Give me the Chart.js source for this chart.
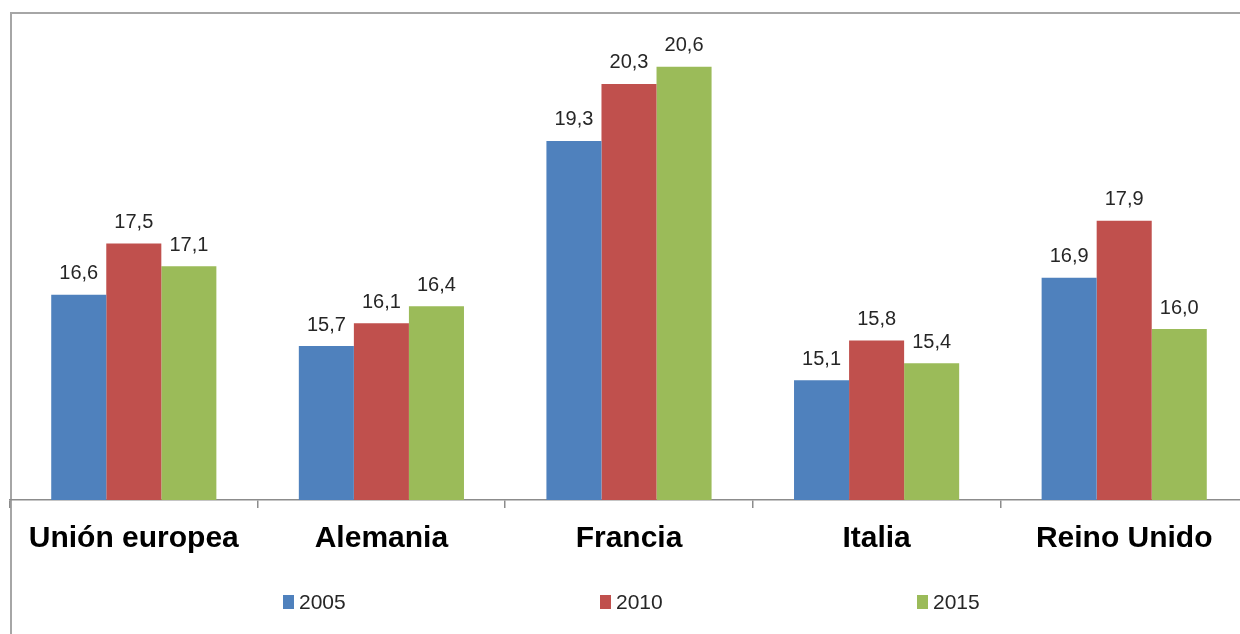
<!DOCTYPE html>
<html>
<head>
<meta charset="utf-8">
<script src="https://cdn.jsdelivr.net/npm/chart.js@4.4.1/dist/chart.umd.min.js"></script>
<style>
  html, body { margin: 0; padding: 0; background: #fff; overflow: hidden; }
  #wrap { position: absolute; left: 0; top: 0; width: 1248px; height: 634px; }
</style>
</head>
<body>
<div id="wrap"><canvas id="chart"></canvas></div>
<script>
const countries = ['Unión europea', 'Alemania', 'Francia', 'Italia', 'Reino Unido'];
const years = ['2005', '2010', '2015'];
const v2005 = [16.6, 15.7, 19.3, 15.1, 16.9];
const v2010 = [17.5, 16.1, 20.3, 15.8, 17.9];
const v2015 = [17.1, 16.4, 20.6, 15.4, 16.0];
const colors = ['#4f81bd', '#c0504d', '#9bbb59'];

// frame around the chart (top + left edges only show in the crop)
const framePlugin = {
    id: 'frame',
    beforeDraw(chart) {
        const ctx = chart.ctx;
        ctx.save();
        ctx.strokeStyle = '#a6a6a6';
        ctx.lineWidth = 2;
        ctx.beginPath();
        ctx.moveTo(11, chart.height + 5);
        ctx.lineTo(11, 13);
        ctx.lineTo(chart.width + 5, 13);
        ctx.stroke();
        ctx.restore();
    }
};

// value labels above each bar, with comma decimals
const valuePlugin = {
    id: 'values',
    afterDatasetsDraw(chart) {
        const ctx = chart.ctx;
        ctx.save();
        ctx.font = '20px "Liberation Sans", Arial, sans-serif';
        ctx.fillStyle = '#262626';
        ctx.textAlign = 'center';
        ctx.textBaseline = 'bottom';
        chart.data.datasets.forEach((ds, i) => {
            chart.getDatasetMeta(i).data.forEach((bar, j) => {
                ctx.fillText(ds.data[j].toFixed(1).replace('.', ','), bar.x, bar.y - 11);
            });
        });
        ctx.restore();
    }
};

// legend spread wide like the original
const legendPlugin = {
    id: 'wideLegend',
    afterDraw(chart) {
        const ctx = chart.ctx;
        const gap = 317;
        const startX = chart.width / 2 - 341;
        const y = 602;
        ctx.save();
        ctx.font = '21px "Liberation Sans", Arial, sans-serif';
        ctx.textBaseline = 'middle';
        ctx.textAlign = 'left';
        chart.data.datasets.forEach((ds, i) => {
            const x = startX + i * gap;
            ctx.fillStyle = ds.backgroundColor;
            ctx.fillRect(x, y - 7, 11, 14);
            ctx.fillStyle = '#262626';
            ctx.fillText(ds.label, x + 16, y + 1);
        });
        ctx.restore();
    }
};

new Chart(document.getElementById('chart'), {
    type: 'bar',
    data: {
        labels: countries,
        datasets: [
            { label: years[0], data: v2005, backgroundColor: colors[0] },
            { label: years[1], data: v2010, backgroundColor: colors[1] },
            { label: years[2], data: v2015, backgroundColor: colors[2] }
        ]
    },
    options: {
        responsive: true,
        maintainAspectRatio: false,
        animation: false,
        events: [],
        categoryPercentage: 0.667,
        barPercentage: 1,
        layout: { padding: { top: 44, left: 10, right: 0, bottom: 64 } },
        plugins: {
            legend: { display: false },
            tooltip: { enabled: false }
        },
        scales: {
            x: {
                offset: true,
                grid: {
                    offset: true,
                    drawOnChartArea: false,
                    drawTicks: true,
                    tickLength: 8,
                    color: '#8c8c8c',
                    lineWidth: 1.5
                },
                border: { display: true, color: '#8c8c8c', width: 1.5 },
                ticks: {
                    padding: 13,
                    color: '#000',
                    font: { family: '"Liberation Sans", Arial, sans-serif', size: 30, weight: 'bold' }
                }
            },
            y: {
                display: false,
                min: 13,
                max: 21
            }
        }
    },
    plugins: [framePlugin, valuePlugin, legendPlugin]
});
</script>
</body>
</html>
